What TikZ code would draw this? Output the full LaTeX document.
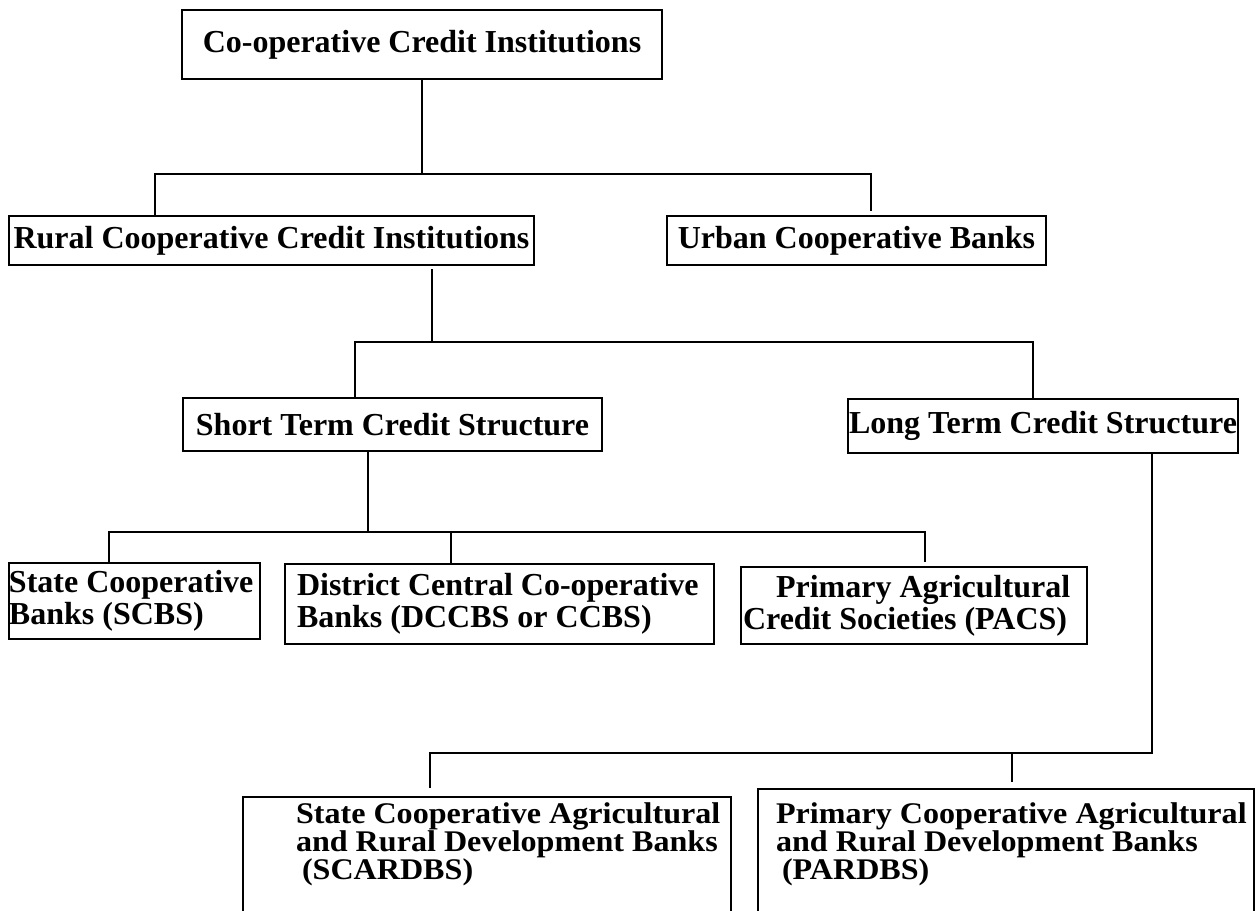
\documentclass[tikz,border=0pt]{standalone}
\usepackage{fontspec}
\setmainfont{Liberation Serif}
\newfontfamily\lowfont[FakeStretch=1.07]{Liberation Serif}
\usetikzlibrary{calc}

\newcommand\tightlines{\lineskiplimit=-20pt\relax}

\tikzset{
  unit/.style={draw, line width=1pt, anchor=north west, inner sep=0pt, outer sep=0pt,
    font={\fontsize{16pt}{16pt}\selectfont\bfseries}},
  lowunit/.style={unit, align=flush left, text depth=80pt,
    font={\lowfont\fontsize{15pt}{14pt}\selectfont\bfseries\tightlines}},
  link/.style={line width=1pt},
}

\begin{document}
\begin{tikzpicture}[x=0.5pt,y=-0.5pt]
  \clip (0,0) rectangle (1256,910);
  % Boxes, top down
  \node[unit, minimum width=240pt, minimum height=34.5pt] (coop) at (182,10) {Co-operative Credit Institutions};
  \node[unit, minimum width=262.5pt, minimum height=24.5pt] (rural) at (9,216) {Rural Cooperative Credit Institutions};
  \node[unit, minimum width=189.5pt, minimum height=24.5pt] (urban) at (667,216) {Urban Cooperative Banks};
  \node[unit, minimum width=209.5pt, minimum height=26.5pt] (short) at (183,398) {Short Term Credit Structure};
  \node[unit, minimum width=195pt, minimum height=27pt] (long) at (848,399) {Long Term Credit Structure};
  \node[unit, align=flush left, text width=125.5pt, minimum height=38pt] (scb) at (9,563)
    {State Cooperative\\Banks (SCBS)};
  \node[unit, align=flush left, text width=214.5pt, minimum height=40pt] (dccb) at (285,564)
    {\hspace*{6pt}District Central Co-operative\\\hspace*{6pt}Banks (DCCBS or CCBS)};
  \node[unit, align=flush left, inner xsep=1pt, text width=171pt, minimum height=38.5pt] (pacs) at (741,567)
    {\hspace*{16.5pt}Primary Agricultural\\Credit Societies (PACS)};
  \node[lowunit, text width=244pt, inner ysep=3pt] (scard) at (243,797)
    {\hspace*{26.5pt}State Cooperative Agricultural\\\hspace*{26.5pt}and Rural Development Banks\\\hspace*{29.5pt}(SCARDBS)};
  \node[lowunit, text width=248pt, inner ysep=7pt] (pard) at (758,789)
    {\hspace*{9pt}Primary Cooperative Agricultural\\\hspace*{9pt}and Rural Development Banks\\\hspace*{12pt}(PARDBS)};
  % Bus points
  \coordinate (b1l) at (155,174);
  \coordinate (b1r) at (871,174);
  \coordinate (d2) at (432,342);
  \coordinate (b2l) at (355,342);
  \coordinate (b2r) at (1033,342);
  \coordinate (d3) at (368,532);
  \coordinate (b3l) at (109,532);
  \coordinate (b3m) at (451,532);
  \coordinate (b3r) at (925,532);
  \coordinate (b4l) at (430,753);
  \coordinate (b4m) at (1012,753);
  \coordinate (b4r) at (1152,753);
  % Connectors
  \draw[link] (coop.south) -- (coop.south |- b1l);
  \draw[link] (rural.north -| b1l) -- (b1l) -- (b1r) -- ($(urban.north -| b1r)+(0,-5)$);
  \draw[link] ($(rural.south -| d2)+(0,4)$) -- (d2);
  \draw[link] (short.north -| b2l) -- (b2l) -- (b2r) -- (long.north -| b2r);
  \draw[link] (short.south -| d3) -- (d3);
  \draw[link] (scb.north -| b3l) -- (b3l) -- (b3r) -- ($(pacs.north -| b3r)+(0,-5)$);
  \draw[link] (b3m) -- (dccb.north -| b3m);
  \draw[link] (long.south -| b4r) -- (b4r) -- (b4l) -- ($(scard.north -| b4l)+(0,-9)$);
  \draw[link] (b4m) -- ($(pard.north -| b4m)+(0,-7)$);
\end{tikzpicture}
\end{document}
